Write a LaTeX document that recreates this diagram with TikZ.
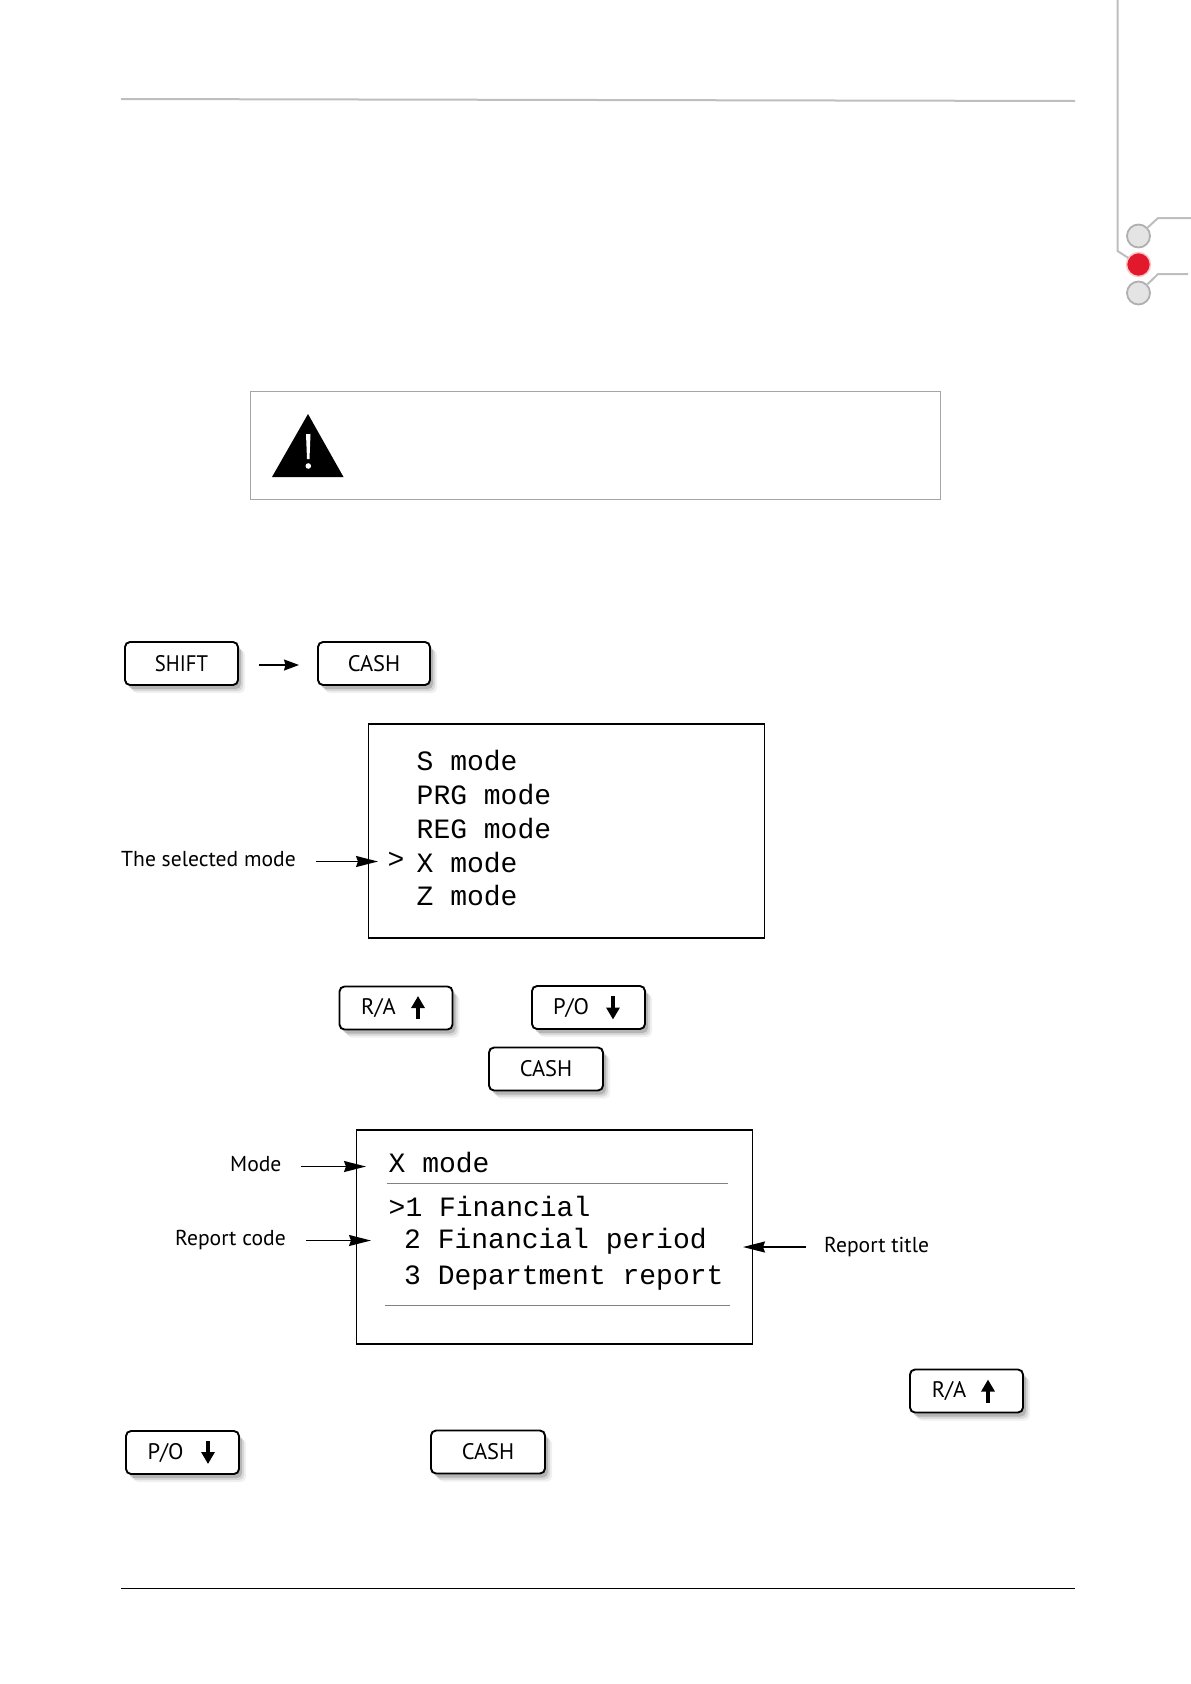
\documentclass[tikz,border=0pt]{standalone}
\usepackage{fontspec}
\setmainfont{PT Sans}
\setmonofont{Liberation Mono}
\usepackage{xcolor}
\usetikzlibrary{arrows.meta,positioning,shadows}
\definecolor{rulegrey}  {RGB}{190,190,190}
\definecolor{dotgrey}   {RGB}{228,228,228}
\definecolor{dotedge}   {RGB}{175,175,175}
\definecolor{dotred}    {RGB}{226, 24, 44}
\definecolor{dotglow}   {RGB}{246,200,200}
\definecolor{boxgrey}   {RGB}{165,165,165}
\definecolor{hairgrey}  {RGB}{130,130,130}
\newcommand{\keyfont}{\fontsize{22.5}{27}\selectfont}
\newcommand{\notefont}{\fontsize{21.6}{26}\selectfont}
\newcommand{\lcdfont}{\ttfamily\fontsize{28}{32}\selectfont}

\begin{document}
\begin{tikzpicture}[
    x=1pt, y=-1pt,
    keybox/.style={draw, fill=white, rectangle, rounded corners=5pt, line width=1.9pt, minimum width=113pt, minimum height=43pt, outer sep=0pt,
        drop shadow={shadow xshift=7pt, shadow yshift=-8pt, fill=black, opacity=0.06},
        drop shadow={shadow xshift=5pt, shadow yshift=-6pt, fill=black, opacity=0.10},
        drop shadow={shadow xshift=3pt, shadow yshift=-4pt, fill=black, opacity=0.16}},
    keytext/.style={font=\keyfont, inner sep=0pt},
    screen/.style={draw, rectangle, line width=1.4pt, outer sep=0pt},
    lcdline/.style={font=\lcdfont, anchor=base west, inner sep=0pt},
    callout/.style={font=\notefont, inner sep=0pt, text height=15pt, text depth=5pt},
    arrow/.style={-{Stealth[length=22pt, width=11pt, inset=2pt]}, line width=1.5pt},
    shortarrow/.style={-{Stealth[length=15pt, width=11pt, inset=1.5pt]}, line width=1.5pt},
    keyarrow/.style={-{Triangle[length=12pt, width=13pt]}, line width=3.2pt},
    hair/.style={draw=hairgrey, line width=0.9pt},
    tabdot/.style={circle, draw=dotedge, fill=dotgrey, line width=1.8pt, minimum size=23pt, inner sep=0pt, outer sep=0pt},
    tabline/.style={draw=rulegrey, line width=2pt}
]
    \useasboundingbox (0,0) rectangle (1191,1684);

    % --- page furniture: rules and side tab ---
    \coordinate (head_l) at (121,99);
    \coordinate (head_r) at (1075,101);
    \coordinate (foot_l) at (121,1588.5);
    \coordinate (foot_r) at (1075,1588.5);
    \draw[tabline] (head_l) -- (head_r);
    \draw[line width=1.3pt] (foot_l) -- (foot_r);

    \node[tabdot] (dot_top) at (1138.5,236) {};
    \node[circle, fill=dotred, draw=dotglow, line width=1.5pt, minimum size=24pt, inner sep=0pt, outer sep=0pt] (dot_red) at (1138.5,264.5) {};
    \node[tabdot] (dot_low) at (1138.5,293) {};
    \coordinate (tab_top) at (1117.5,0);
    \coordinate (tab_knee) at (1117.5,251);
    \coordinate (top_knee) at (1158,218);
    \coordinate (top_end) at (1191,218);
    \coordinate (low_knee) at (1158,274);
    \coordinate (low_end) at (1188,274);
    \draw[tabline] (tab_top) -- (tab_knee) -- (dot_red);
    \draw[tabline] (dot_top) -- (top_knee) -- (top_end);
    \draw[tabline] (dot_low) -- (low_knee) -- (low_end);

    % --- warning box ---
    \node[draw=boxgrey, line width=0.8pt, minimum width=690pt, minimum height=108pt, outer sep=0pt] (warnbox) at (595.5,445) {};
    \fill (308,414) -- (343.5,477) -- (272,477) -- cycle;
    \fill[white] (306,434) -- (310.5,434) -- (309.5,459) -- (307,459) -- cycle;
    \fill[white] (308.3,466) circle (2.8);

    % --- first key pair ---
    \node[keybox] (shift_key) at (181.5,663.5) {};
    \node[keytext, xscale=0.92] (shift_txt) at (shift_key.center) {SHIFT};
    \node[keybox, minimum width=112pt] (cash_a) [right=80pt of shift_key] {};
    \node[keytext] (cash_a_txt) at (cash_a.center) {CASH};
    \draw[shortarrow] ([xshift=21pt, yshift=-1.5pt]shift_key.east) -- ([xshift=-19pt, yshift=-1.5pt]cash_a.west);

    % --- mode menu ---
    \node[screen, minimum width=396pt, minimum height=214pt] (mode_lcd) at (566.5,831) {};
    \draw[line width=2.2pt] (mode_lcd.north west) -- (mode_lcd.north east);
    \node[lcdline] (mode_s) at (416.5,770.5) {S mode};
    \node[lcdline] (mode_prg) at (416.5,804) {PRG mode};
    \node[lcdline] (mode_reg) at (416.5,838) {REG mode};
    \node[lcdline] (mode_x) at (416.5,872) {X mode};
    \node[lcdline] (mode_z) at (416.5,905.5) {Z mode};
    \node[lcdline] (mode_mark) at (387.5,868) {>};

    \node[callout, anchor=west] (selected) at (121,861.5) {The selected mode};
    \coordinate (selected_tip) at (378,861.5);
    \draw[arrow] ([xshift=20pt]selected.east) -- (selected_tip);

    % --- navigation keys ---
    \node[keybox] (ra_a) at (396,1008) {};
    \node[keytext] (ra_a_txt) at (378.5,1008) {R/A};
    \draw[keyarrow] ([shift={(22,11)}]ra_a.center) -- ([shift={(22,-12)}]ra_a.center);
    \node[keybox] (po_a) at (588.5,1007.5) {};
    \node[keytext] (po_a_txt) at (571,1008) {P/O};
    \draw[keyarrow] ([shift={(24.5,-12)}]po_a.center) -- ([shift={(24.5,12)}]po_a.center);
    \node[keybox, minimum width=114pt] (cash_b) at (546,1069) {};
    \node[keytext] (cash_b_txt) at (cash_b.center) {CASH};

    % --- report menu ---
    \node[screen, line width=1.8pt, minimum width=396pt, minimum height=214pt] (report_lcd) at (554.5,1237) {};
    \node[lcdline] (rep_mode) at (388.5,1172) {X mode};
    \node[lcdline] (rep_one) at (388.5,1216) {>1 Financial};
    \node[lcdline] (rep_two) at (404,1248) {2 Financial period};
    \node[lcdline] (rep_three) at (404,1284) {3 Department report};
    \coordinate (hair_a_l) at (386.5,1183);
    \coordinate (hair_a_r) at (728,1183);
    \coordinate (hair_b_l) at (384.5,1305);
    \coordinate (hair_b_r) at (730,1305);
    \draw[hair] (hair_a_l) -- (hair_a_r);
    \draw[hair] (hair_b_l) -- (hair_b_r);

    \node[callout, anchor=west] (mode_note) at (230,1166.5) {Mode};
    \coordinate (mode_tip) at (366,1166.5);
    \draw[arrow] ([xshift=19pt]mode_note.east) -- (mode_tip);
    \node[callout, anchor=west] (code_note) at (175,1240.5) {Report code};
    \coordinate (code_tip) at (371,1240.5);
    \draw[arrow] ([xshift=20pt]code_note.east) -- (code_tip);
    \node[callout, anchor=west] (title_note) at (824,1247) {Report title};
    \coordinate (title_tip) at (743,1247);
    \draw[arrow] ([xshift=-18pt]title_note.west) -- (title_tip);

    % --- bottom keys ---
    \node[keybox] (ra_b) at (966.5,1391) {};
    \node[keytext] (ra_b_txt) at (949,1391) {R/A};
    \draw[keyarrow] ([shift={(21.5,11.5)}]ra_b.center) -- ([shift={(21.5,-11.5)}]ra_b.center);
    \node[keybox] (po_b) at (182.5,1452.5) {};
    \node[keytext] (po_b_txt) at (165.5,1453.5) {P/O};
    \draw[keyarrow] ([shift={(25.5,-11.5)}]po_b.center) -- ([shift={(25.5,11.5)}]po_b.center);
    \node[keybox, minimum width=114pt] (cash_c) at (488,1452) {};
    \node[keytext] (cash_c_txt) at (cash_c.center) {CASH};

\end{tikzpicture}
\end{document}
